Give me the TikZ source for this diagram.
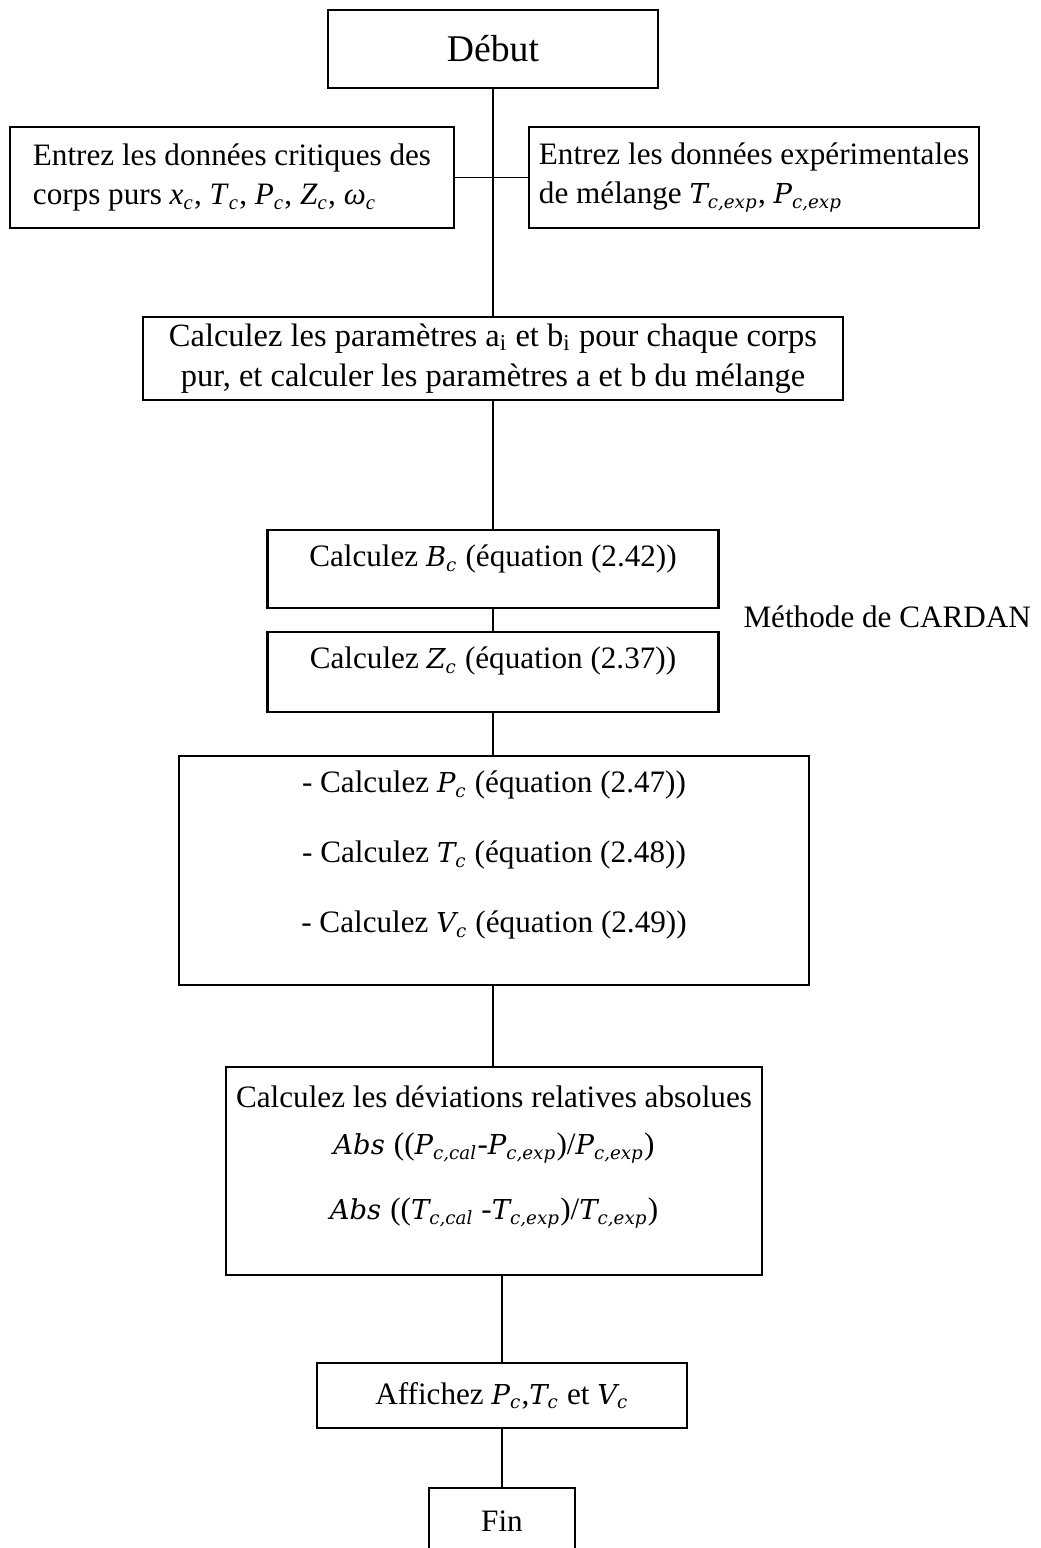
\documentclass[tikz,border=0pt]{standalone}
\usepackage{fontspec}
\setmainfont{Liberation Serif}
\newfontfamily\cambria{DejaVu Serif}[Scale=0.88]
\usetikzlibrary{positioning}
\newcommand{\pxu}{0.385pt}
% grandeur en italique (Times) et grandeur type Cambria
\newcommand{\tvar}[2]{\textit{#1}\textsubscript{\textit{#2}}}
\newcommand{\mvar}[2]{{\cambria\itshape #1\textsubscript{#2}}}

\begin{document}
\begin{tikzpicture}[x=0.385pt, y=-0.385pt,
  taille/.style 2 args={minimum width=#1*\pxu, minimum height=#2*\pxu},
  bloc/.style={draw, line width=0.8pt, inner sep=0pt, align=center,
               font=\fontsize{12}{15}\selectfont},
  entree/.style={bloc, align=left},
  texte/.style={inner sep=0pt, align=center, font=\fontsize{12}{15}\selectfont},
  lien/.style={line width=0.6pt}]

\useasboundingbox (0,0) rectangle (1040,1548);

% boites
\node[bloc, taille={330}{78}, font=\fontsize{14.5}{18}\selectfont] (debut) at (493,49) {Début};
\node[entree, taille={444}{101}] (gauche) at (232,177.5)
  {Entrez les données critiques des\\corps purs \tvar{x}{c}, \tvar{T}{c}, \tvar{P}{c}, \tvar{Z}{c}, \tvar{ω}{c}};
\node[entree, taille={450}{101}] (droite) at (754,177.5)
  {Entrez les données expérimentales\\de mélange \mvar{T}{c,exp}, \mvar{P}{c,exp}};
\node[bloc, taille={700}{83}, font=\fontsize{12.5}{15.5}\selectfont] (calc) at (493,358.5)
  {Calculez les paramètres a\textsubscript{i} et b\textsubscript{i} pour chaque corps\\pur, et calculer les paramètres a et b du mélange};
\node[bloc, taille={451}{78}] (bc) at (493,569) {};
\node[bloc, taille={451}{80}] (zc) at (493,672) {};
\node[bloc, taille={630}{229}] (pc) at (494,870.5) {};
\node[bloc, taille={536}{208}] (dev) at (494,1171) {};
\node[bloc, taille={370}{65}] (aff) at (502,1395.5)
  {Affichez \mvar{P}{c},\mvar{T}{c} et \mvar{V}{c}};
\node[bloc, taille={146}{66}] (fin) at (502,1521) {Fin};

% textes
\node[texte] (bctxt) at (493,559) {Calculez \mvar{B}{c} (équation (2.42))};
\node[texte] (zctxt) at (493,661) {Calculez \mvar{Z}{c} (équation (2.37))};
\node[texte, font=\fontsize{12}{27}\selectfont] (pctxt) at (494,855)
  {- Calculez \mvar{P}{c} (équation (2.47))\\
   - Calculez \mvar{T}{c} (équation (2.48))\\
   - Calculez \mvar{V}{c} (équation (2.49))};
\node[texte, font=\fontsize{12}{18}\selectfont] (devtxt) at (494,1157)
  {Calculez les déviations relatives absolues\\
   \mvar{Abs}{} ((\mvar{P}{c,cal}-\mvar{P}{c,exp})/\mvar{P}{c,exp})\\[7pt]
   \mvar{Abs}{} ((\mvar{T}{c,cal} -\mvar{T}{c,exp})/\mvar{T}{c,exp})};
\node[texte, anchor=base west] (cardan) at (743,628) {Méthode de CARDAN};

% liaisons
\draw[lien] (debut.south) -- (calc.north);
\draw[lien] (gauche) -- (droite);
\draw[lien] (calc) -- (bc);
\draw[lien] (bc) -- (zc);
\draw[lien] (zc.south) -- (zc.south |- pc.north);
\draw[lien] (pc.south -| zc.south) -- (dev.north -| zc.south);
\draw[lien] (dev.south -| aff) -- (aff);
\draw[lien] (aff) -- (fin);
\end{tikzpicture}
\end{document}
